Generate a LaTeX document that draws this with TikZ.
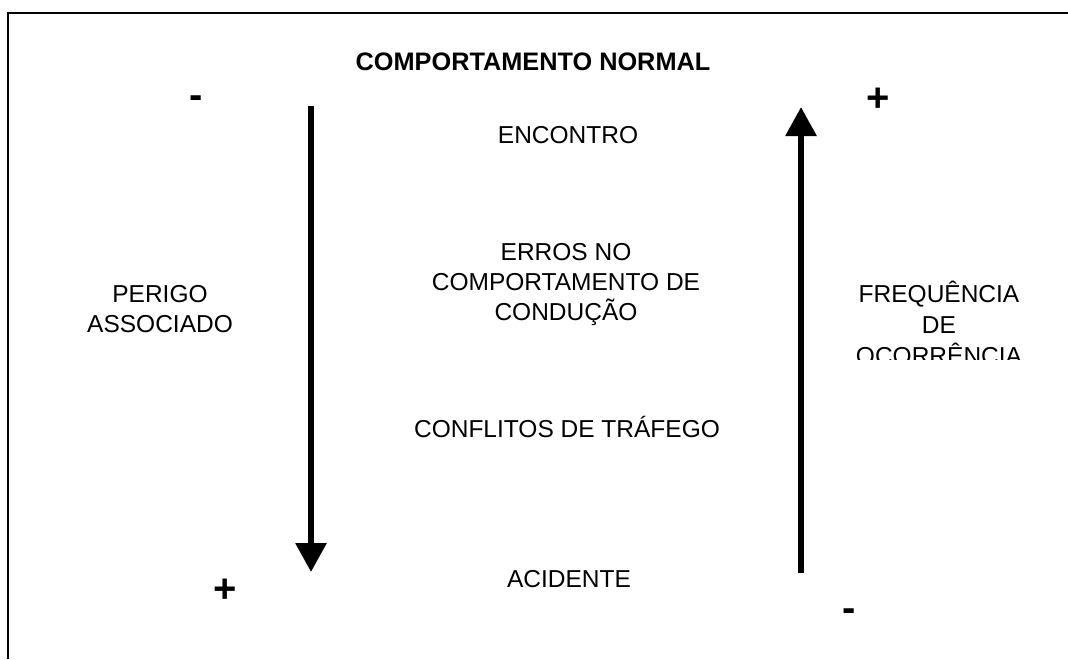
\documentclass[tikz,border=0pt]{standalone}
\usepackage{fontspec}
\setmainfont{Liberation Sans}
\usetikzlibrary{arrows.meta}
\tikzset{
  txt/.style={font=\fontsize{24.5}{30}\selectfont, align=center, anchor=base, inner sep=0pt},
  sign/.style={font=\fontsize{40}{40}\selectfont\bfseries, anchor=base, inner sep=0pt},
  bigarrow/.style={line width=6pt, -{Triangle[width=30pt,length=29pt]}}
}
\begin{document}
\begin{tikzpicture}[x=1pt,y=-1pt]
      \useasboundingbox (0,0) rectangle (1068,659);
      \draw[line width=2pt] (8,659) -- (8,13) -- (1068,13);
      \draw
        (533,70) node[txt,font=\fontsize{25.3}{30}\selectfont\bfseries] (titulo){COMPORTAMENTO NORMAL}
        (568,143) node[txt] (encontro){ENCONTRO}
        (566,320) node[txt] (erros){ERROS NO\\COMPORTAMENTO DE\\CONDUÇÃO}
        (160,332) node[txt] (perigo){PERIGO\\ASSOCIADO}
        (567,437) node[txt] (conflitos){CONFLITOS DE TRÁFEGO}
        (569,587) node[txt] (acidente){ACIDENTE};
      \begin{scope}
        \clip (850,200) rectangle (1040,359);
        \draw (939,364) node[txt,font=\fontsize{24.5}{31}\selectfont] (frequencia){FREQUÊNCIA\\DE\\OCORRÊNCIA};
      \end{scope}
      \draw
        (196,108) node[sign] (menos1){-}
        (878,111) node[sign] (mais1){+}
        (225,602) node[sign] (mais2){+}
        (849,621) node[sign] (menos2){-};
      \coordinate (perigotopo) at (311,106);
      \coordinate (perigofim) at (311,572);
      \coordinate (freqbase) at (801,573);
      \coordinate (freqtopo) at (801,107);
      \begin{scope}[bigarrow]
        \draw (perigotopo) to (perigofim);
        \draw (freqbase) to (freqtopo);
      \end{scope}
    \end{tikzpicture}
\end{document}
